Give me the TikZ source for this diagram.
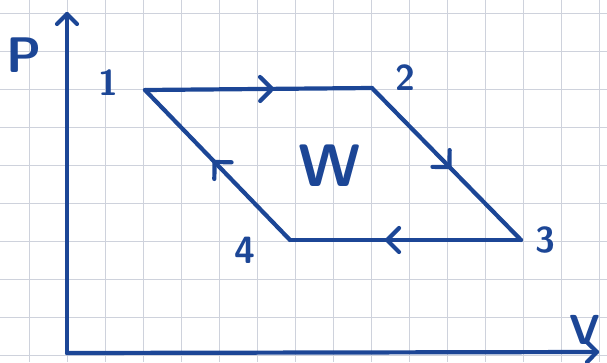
\documentclass[tikz,border=0pt]{standalone}
\usepackage{xcolor}
\usepackage{tikz}
\usetikzlibrary{decorations.markings}
\definecolor{ink}{RGB}{28,70,150}
\definecolor{gridline}{RGB}{206,210,220}
\tikzstyle{inkline} = [draw=ink, line width=4.2pt, line cap=round, line join=round]
\newcommand{\penbarb}[1]{\draw[inkline] (-#1,#1) -- (0,0) -- (-#1,-#1);}
\tikzstyle{axis} = [inkline, postaction={decorate},
    decoration={markings, mark=at position 1 with {\penbarb{10pt}}}]
\tikzstyle{midarrow} = [inkline, postaction={decorate},
    decoration={markings, mark=at position #1 with {\penbarb{12pt}}}]
\tikzstyle{lbl} = [text=ink, font=\sffamily\bfseries, inner sep=0pt]

\begin{document}
\begin{tikzpicture}[x=1pt, y=-1pt]
    \useasboundingbox (0,0) rectangle (607,362);
    % squared paper
    \foreach \x in {29,67,...,600} \draw[gridline, line width=1pt] (\x,0) -- (\x,362);
    \foreach \y in {13,51,...,360} \draw[gridline, line width=1pt] (0,\y) -- (607,\y);
    % axes
    \coordinate (O) at (67,353);
    \coordinate (ptop) at (67,14);
    \coordinate (vend) at (597,352);
    \draw[axis] (O) -- (ptop);
    \draw[axis] (O) -- (vend);
    \node[lbl, font=\sffamily\bfseries\fontsize{50}{50}\selectfont] (plabel) at (24,55) {P};
    \node[lbl, font=\sffamily\bfseries\fontsize{42}{42}\selectfont] (vlabel) at (585,330) {V};
    % cycle
    \coordinate (s1) at (145,90);
    \coordinate (s2) at (372,88);
    \coordinate (s3) at (521,240);
    \coordinate (s4) at (290,240);
    \draw[midarrow=0.56] (s1) -- (s2);
    \draw[midarrow=0.52] (s2) -- (s3);
    \draw[midarrow=0.58] (s3) -- (s4);
    \draw[midarrow=0.52] (s4) -- (s1);
    \node[lbl, font=\sffamily\bfseries\fontsize{36}{36}\selectfont] (n1) at (108,83) {1};
    \node[lbl, font=\sffamily\bfseries\fontsize{36}{36}\selectfont] (n2) at (405,78) {2};
    \node[lbl, font=\sffamily\bfseries\fontsize{36}{36}\selectfont] (n3) at (545,240) {3};
    \node[lbl, font=\sffamily\bfseries\fontsize{38}{38}\selectfont] (n4) at (245,250) {4};
    \node[lbl, font=\sffamily\bfseries\fontsize{60}{60}\selectfont] (work) at (330,166) {W};
\end{tikzpicture}
\end{document}
